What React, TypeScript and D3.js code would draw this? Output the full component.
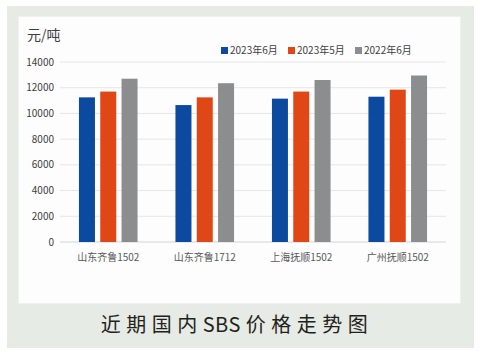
import React from "react";
import * as d3 from "d3";

const categories = ["山东齐鲁1502", "山东齐鲁1712", "上海抚顺1502", "广州抚顺1502"];
const seriesNames = ["2023年6月", "2023年5月", "2022年6月"];
const jun2023 = [11250, 10650, 11150, 11300];
const may2023 = [11700, 11250, 11700, 11850];
const jun2022 = [12700, 12350, 12600, 12950];
const yTicks = [0, 2000, 4000, 6000, 8000, 10000, 12000, 14000];
const colors = ["#0b4a9e", "#e04716", "#8b8d8f"];
const titleParts = ["近期国内", "SBS", "价格走势图"];
const unit = "元/吨";

export default function App() {
  const W = 480, H = 355;
  const series = [jun2023, may2023, jun2022];
  const x = d3.scaleBand<string>().domain(categories).range([60, 446]).paddingInner(0).paddingOuter(0);
  const y = d3.scaleLinear().domain([0, 14000]).range([242, 62]);
  const barW = 16;
  const step = 21.3;
  const font = "'Microsoft YaHei', 'Noto Sans CJK SC', sans-serif";
  const legendX = [221, 288, 355];
  return (
    <svg width={W} height={H} style={{ position: "absolute", left: 0, top: 0 }}>
      <rect x={0} y={0} width={W} height={H} fill="#ffffff" />
      <rect x={7} y={6} width={467} height={342} fill="#e7ebe5" />
      <rect x={18.5} y={16.5} width={442} height={287} fill="#fdfdfd" stroke="#f0f0f0" />
      <text x={27} y={40} fontSize={14} fill="#404040" fontFamily={font}>{unit}</text>
      {yTicks.map((t) => (
        <g key={t}>
          <line x1={60} x2={446} y1={y(t)} y2={y(t)} stroke={t === 0 ? "#d4d4d4" : "#e6e6e6"} strokeWidth={1} />
          <text x={54} y={y(t)} dy="0.35em" textAnchor="end" fontSize={10} fill="#404040" fontFamily={font}>{t}</text>
        </g>
      ))}
      {categories.map((c, i) => {
        const cx = (x(c) as number) + x.bandwidth() / 2;
        return (
          <g key={c}>
            {series.map((s, j) => (
              <rect key={j} x={cx + (j - 1) * step - barW / 2} y={y(s[i])} width={barW} height={y(0) - y(s[i])} fill={colors[j]} />
            ))}
            <text x={cx} y={257} dy="0.35em" textAnchor="middle" fontSize={10} fill="#595959" fontFamily={font}>{c}</text>
          </g>
        );
      })}
      {seriesNames.map((n, j) => (
        <g key={n}>
          <rect x={legendX[j]} y={47} width={7} height={7} fill={colors[j]} />
          <text x={legendX[j] + 9} y={50.5} dy="0.35em" fontSize={10} fill="#404040" fontFamily={font}>{n}</text>
        </g>
      ))}
      <text x={237} y={325} dy="0.35em" textAnchor="middle" fontSize={20} fill="#231f20" fontFamily={font}>
        <tspan letterSpacing={5.5}>{titleParts[0]}</tspan>
        <tspan letterSpacing={0.5}>{titleParts[1]}</tspan>
        <tspan dx={5} letterSpacing={5.5}>{titleParts[2]}</tspan>
      </text>
    </svg>
  );
}
